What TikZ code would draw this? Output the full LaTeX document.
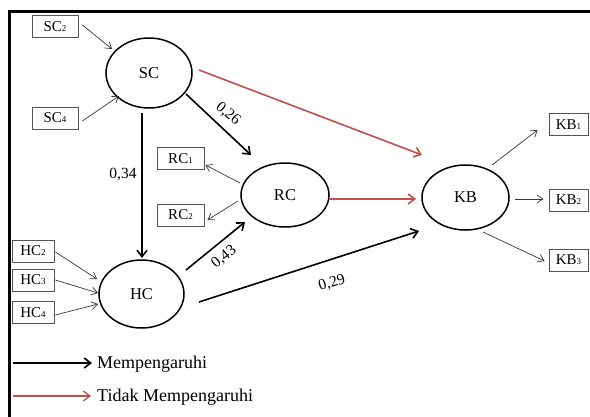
\documentclass[tikz,border=0pt]{standalone}
\usepackage{fontspec}
\setmainfont{Liberation Serif}
\usetikzlibrary{shapes.geometric,arrows.meta}
\definecolor{redpath}{RGB}{192,80,77}
\definecolor{boxgray}{RGB}{85,85,85}
\definecolor{indgray}{RGB}{55,55,55}
\newcommand{\ixsub}[1]{{\fontsize{9}{9}\selectfont #1}}
\begin{document}
\begin{tikzpicture}[x=1pt,y=-1pt,
  latent/.style={ellipse,draw,line width=1.5pt,inner sep=0pt,font=\fontsize{16.5}{16.5}\selectfont},
  indic/.style={draw=boxgray,line width=0.8pt,inner sep=0pt,minimum height=22pt,font=\fontsize{15}{15}\selectfont},
  indarrow/.style={draw=indgray,line width=0.7pt,-{Straight Barb[length=6pt,width=8pt]}},
  patharrow/.style={draw=black,line width=1.6pt,-{Straight Barb[length=6.5pt,width=10pt]}},
  redarrow/.style={draw=redpath,line width=1.6pt,-{Straight Barb[length=6.5pt,width=10pt]}},
  coef/.style={font=\fontsize{15.5}{15.5}\selectfont,inner sep=0pt},
  legtext/.style={font=\fontsize{18}{18}\selectfont,inner sep=0pt,anchor=base west}]
\useasboundingbox (0,0) rectangle (590,416);
\clip (0,0) rectangle (590,416);
% frame
\draw[line width=3pt] (9,440) -- (9,11) -- (620,11);
% latent variables
\node[latent,minimum width=86pt,minimum height=70pt] (sc) at (149,73) {SC};
\node[latent,minimum width=88pt,minimum height=64pt] (rc) at (285,195) {RC};
\node[latent,minimum width=87pt,minimum height=65pt] (kb) at (465.5,197.5) {KB};
\node[latent,minimum width=85pt,minimum height=68pt] (hc) at (141.5,294) {HC};
% indicators
\node[indic,minimum width=46pt] (sc2) at (55,26.5) {SC\ixsub{2}};
\node[indic,minimum width=46pt] (sc4) at (55,118) {SC\ixsub{4}};
\node[indic,minimum width=47pt] (rc1) at (180.5,158.5) {RC\ixsub{1}};
\node[indic,minimum width=47pt] (rc2) at (180.5,215) {RC\ixsub{2}};
\node[indic,minimum width=42pt] (hc2) at (33,251) {HC\ixsub{2}};
\node[indic,minimum width=42pt] (hc3) at (33,280) {HC\ixsub{3}};
\node[indic,minimum width=42pt] (hc4) at (33,312.5) {HC\ixsub{4}};
\node[indic,minimum width=39pt] (kb1) at (568.5,124.5) {KB\ixsub{1}};
\node[indic,minimum width=39pt] (kb2) at (568.5,200) {KB\ixsub{2}};
\node[indic,minimum width=39pt] (kb3) at (568.5,260) {KB\ixsub{3}};
% indicator arrows
\draw[indarrow] ([shift={(4,-1.5)}]sc2.east) -- ([shift={(-37,-24)}]sc.center);
\draw[indarrow] ([shift={(4,3)}]sc4.east) -- ([shift={(-30,23)}]sc.center);
\draw[indarrow] ([shift={(-45,-12)}]rc.center) -- ([shift={(1,6.5)}]rc1.east);
\draw[indarrow] ([shift={(-47,6)}]rc.center) -- ([shift={(3,5)}]rc2.east);
\draw[indarrow] ([shift={(1,1)}]hc2.east) -- ([shift={(-44.5,-15)}]hc.center);
\draw[indarrow] ([shift={(1,0)}]hc3.east) -- ([shift={(-43.5,-1)}]hc.center);
\draw[indarrow] ([shift={(1,2.5)}]hc4.east) -- ([shift={(-43.5,10)}]hc.center);
\draw[indarrow] ([shift={(26.5,-32.5)}]kb.center) -- ([shift={(-11,5.5)}]kb1.west);
\draw[indarrow] ([shift={(49.5,1.5)}]kb.center) -- ([shift={(-5,-1)}]kb2.west);
\draw[indarrow] ([shift={(17.5,34.5)}]kb.center) -- ([shift={(-4,1)}]kb3.west);
% structural paths
\draw[patharrow] ([shift={(-7,40)}]sc.center) -- ([shift={(0.5,-36)}]hc.center);
\draw[patharrow] ([shift={(37,21)}]sc.center) -- ([shift={(-34,-40)}]rc.center);
\draw[patharrow] ([shift={(44.5,-24)}]hc.center) -- ([shift={(-40,27)}]rc.center);
\draw[patharrow] ([shift={(57.5,8)}]hc.center) -- ([shift={(-46.5,33.5)}]kb.center);
\draw[redarrow] ([shift={(50,-3)}]sc.center) -- ([shift={(-43.5,-42.5)}]kb.center);
\draw[redarrow] ([shift={(44,4)}]rc.center) -- ([shift={(-49.5,1.5)}]kb.center);
% coefficients
\node[coef] (c34) at (123,175) {0,34};
\node[coef,rotate=-40] (c26) at (228,114) {0,26};
\node[coef,rotate=38] (c43) at (224,257) {0,43};
\node[coef,rotate=17] (c29) at (332,283) {0,29};
% legend
\coordinate (l1s) at (13,363);
\coordinate (l1e) at (92,363);
\coordinate (l2s) at (13,396);
\coordinate (l2e) at (91,396);
\draw[patharrow] (l1s) -- (l1e);
\draw[redarrow,line width=1.3pt] (l2s) -- (l2e);
\node[legtext] (leg1) at (97,368) {Mempengaruhi};
\node[legtext] (leg2) at (97,401) {Tidak Mempengaruhi};
\end{tikzpicture}
\end{document}
